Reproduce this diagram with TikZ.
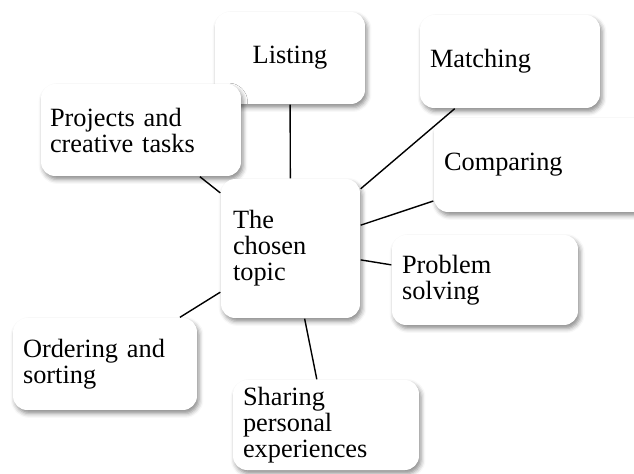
\documentclass[tikz,border=0pt]{standalone}
\usepackage{fontspec}
\setmainfont{Liberation Serif}
\usetikzlibrary{shadows.blur}
\begin{document}
\begin{tikzpicture}[x=0.02cm, y=-0.02cm, line width=0.8pt,
idea node/.style={rectangle, rounded corners=8pt, fill=white, align=left, inner xsep=0.2cm, inner ysep=0pt,
  blur shadow={shadow xshift=1.2pt, shadow yshift=-2pt, shadow blur radius=2.5pt, shadow opacity=45}}]
\useasboundingbox (0,0) rectangle (634,473);
\begin{scope}[every node/.style={font=\fontsize{15}{14.8}\selectfont}]
\node[idea node, align=center, text width=2.6cm, minimum height=1.84cm] (listing) at (290,58) {Listing};
\node[idea node, text width=3.2cm, minimum height=1.86cm] (matching) at (510,61.5) {Matching};
\node[idea node, inner xsep=0.18cm, text width=3.64cm, minimum height=1.84cm] (projects) at (141,130) {Projects and\\creative tasks};
\node[idea node, text width=3.92cm, minimum height=1.88cm] (comparing) at (542,165) {Comparing};
\node[idea node, inner xsep=0.24cm, text width=2.3cm, minimum height=2.78cm] (topic) at (290.5,248.5) {The\\chosen\\topic};
\node[idea node, text width=3.32cm, minimum height=1.8cm] (problem) at (485,280) {Problem\\solving};
\node[idea node, text width=3.28cm, minimum height=1.84cm] (ordering) at (105,364) {Ordering and\\sorting};
\node[idea node, text width=3.32cm, minimum height=1.8cm] (sharing) at (326,425) {Sharing\\personal\\experiences};
\end{scope}
\begin{scope}
\draw (topic) edge (listing);
\draw (topic) edge (matching);
\draw (topic) edge (comparing);
\draw (topic) edge (problem);
\draw (topic) edge (sharing);
\draw (topic) edge (ordering);
\draw (topic) edge (projects);
\end{scope}
\end{tikzpicture}
\end{document}
